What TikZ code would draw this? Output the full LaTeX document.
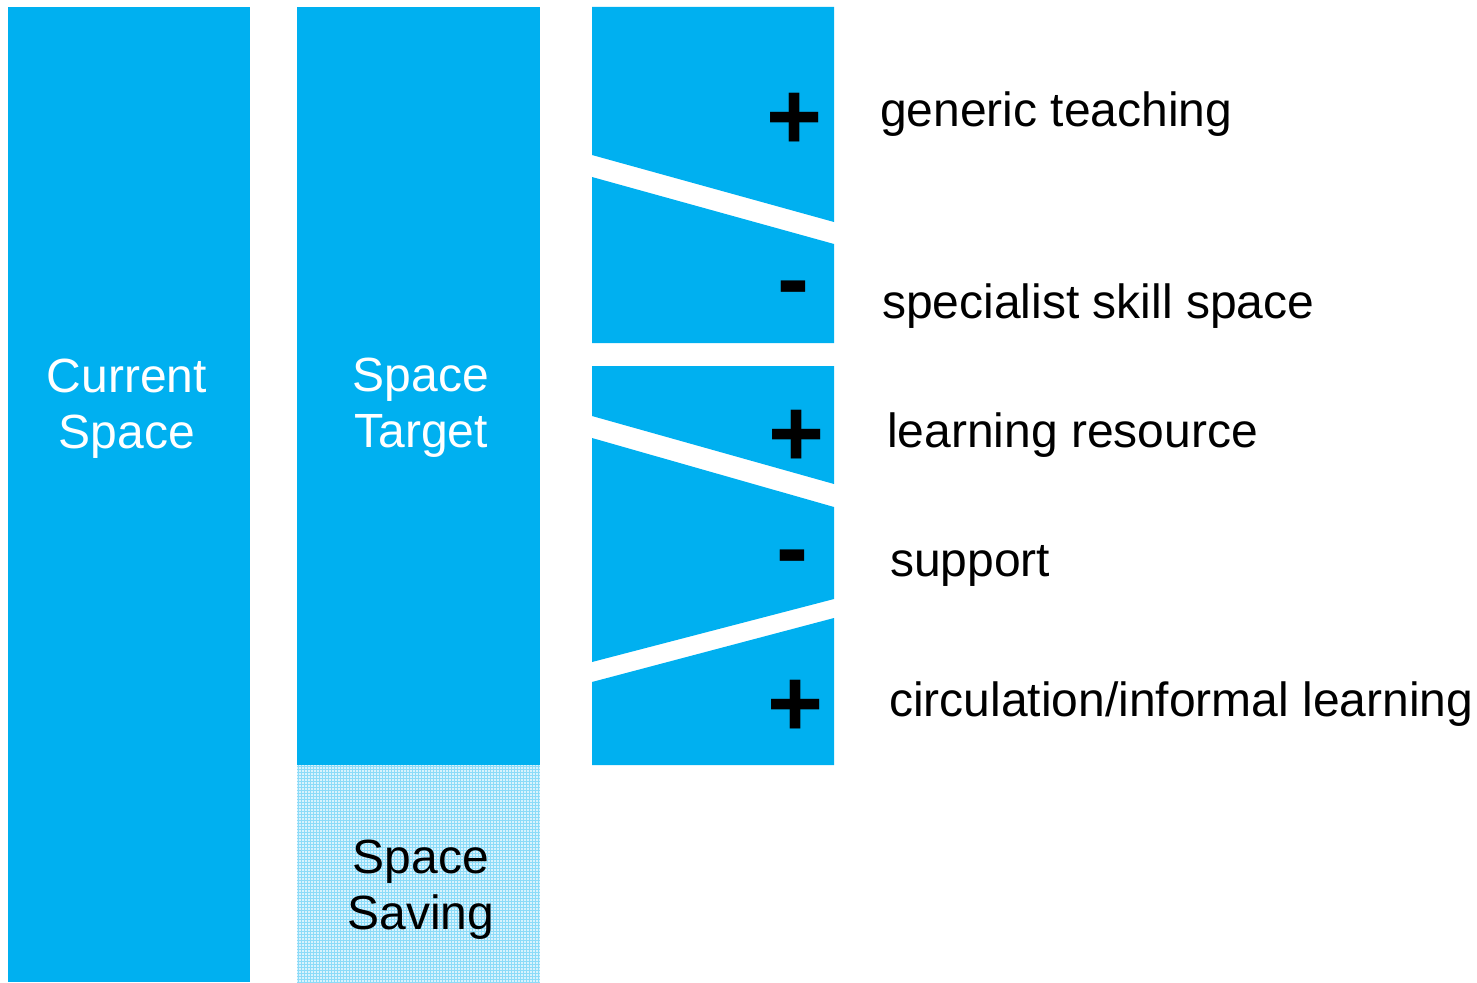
\documentclass[tikz,border=0pt]{standalone}
\usepackage{fontspec}
\setmainfont{Liberation Sans}
\definecolor{mainblue}{HTML}{00B0F0}
\begin{document}
\begin{tikzpicture}[x=1pt,y=-1pt,
  block/.style={fill=mainblue,draw=none},
  gridline/.style={draw=mainblue!45,line width=1pt},
  bigtext/.style={font=\fontsize{48}{56}\selectfont,inner sep=0pt,align=center},
  label/.style={font=\fontsize{48}{56}\selectfont,inner sep=0pt,anchor=base west,text=black},
  sign/.style={font=\fontsize{96}{96}\selectfont\bfseries,inner sep=0pt,anchor=base,text=black}]
\useasboundingbox (0,0) rectangle (1477,982);
% left columns
\fill[block] (8,7) rectangle (250,982);
\fill[block] (297,7) rectangle (540,765);
% space saving pattern
\begin{scope}
\clip (297,765) rectangle (540,982);
\fill[mainblue!15] (297,765) rectangle (540,982);
\foreach \x in {298.5,301.5,...,541} \draw[gridline] (\x,765) -- (\x,982);
\foreach \y in {766.5,769.5,...,983} \draw[gridline] (297,\y) -- (540,\y);
\end{scope}
% right column pieces
\fill[block] (592,7) -- (834,7) -- (834,222) -- (592,155) -- cycle;
\fill[block] (592,177) -- (834,244) -- (834,343) -- (592,343) -- cycle;
\fill[block] (592,366) -- (834,366) -- (834,484) -- (592,416) -- cycle;
\fill[block] (592,438) -- (834,507) -- (834,599) -- (592,662) -- cycle;
\fill[block] (592,682) -- (834,618) -- (834,765) -- (592,765) -- cycle;
% column texts
\node[bigtext,text=white] (current) at (127,409) {Current\\Space};
\node[bigtext,text=white] (target) at (421,408) {Space\\Target};
\node[bigtext,text=black] (saving) at (421,890) {Space\\Saving};
% signs
\node[sign] (s1) at (795,149) {+};
\node[sign] (s2) at (793,311) {-};
\node[sign] (s3) at (797,466) {+};
\node[sign] (s4) at (792,580) {-};
\node[sign] (s5) at (796,736) {+};
% labels
\node[label] (l1) at (880,126) {generic teaching};
\node[label] (l2) at (882,318) {specialist skill space};
\node[label] (l3) at (887,447) {learning resource};
\node[label] (l4) at (890,576) {support};
\node[label] (l5) at (889,716) {circulation/informal learning};
\end{tikzpicture}
\end{document}
